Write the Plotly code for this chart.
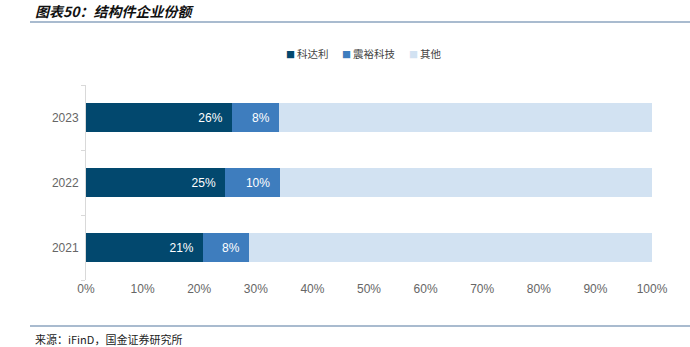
import plotly.graph_objects as go

years = ["2021", "2022", "2023"]
kedali = [20.7, 24.6, 25.8]
zhenyu = [8.1, 9.6, 8.3]
others = [71.2, 65.8, 65.9]
series_names = ["科达利", "震裕科技", "其他"]
colors = ["#02486E", "#3E7DBE", "#D2E2F2"]
xticks = [0, 10, 20, 30, 40, 50, 60, 70, 80, 90, 100]

PW, PH, L, B = 566, 195, 86, 67

def px(x):
    return (x - L) / PW

def py(y):
    return (347 - B - y) / PH

fig = go.Figure()
for name, vals, col, show in zip(series_names, [kedali, zhenyu, others], colors, [True, True, False]):
    fig.add_trace(go.Bar(
        y=years, x=vals, name=name, orientation="h",
        marker=dict(color=col, line=dict(width=0)),
        text=[f"{round(v):.0f}%\u00a0\u00a0" for v in vals] if show else None,
        textposition="inside", insidetextanchor="end",
        textfont=dict(color="white", size=12, family="Liberation Sans, Arial"),
        hoverinfo="skip", showlegend=False,
    ))

fig.update_layout(
    barmode="stack", bargap=0.55,
    width=690, height=347,
    margin=dict(l=L, r=38, t=85, b=B),
    paper_bgcolor="white", plot_bgcolor="white",
    font=dict(family="Liberation Sans, Noto Sans CJK SC", size=12, color="#555"),
    xaxis=dict(range=[0, 100], tickvals=xticks, ticktext=[f"{v}%" for v in xticks],
               showgrid=False, zeroline=False, showline=False, ticks="",
               tickfont=dict(size=12, color="#666")),
    yaxis=dict(showgrid=False, showline=True, linecolor="#D9D9D9", linewidth=1,
               ticks="outside", tickson="boundaries", ticklen=4, tickcolor="#D9D9D9",
               tickfont=dict(size=12, color="#666"), ticklabelstandoff=4),
    showlegend=False,
)

legend_x = [284, 340, 407]
for name, col, lx in zip(series_names, colors, legend_x):
    fig.add_annotation(text=f'<span style="color:{col};font-size:9px">■</span>\u2009{name}',
                       xref="paper", yref="paper", x=px(lx), y=py(54),
                       xanchor="left", yanchor="middle", showarrow=False,
                       font=dict(family="Noto Sans CJK SC", size=10.5, color="#444"))

fig.add_annotation(text="<b><i>图表50：结构件企业份额</i></b>", xref="paper", yref="paper",
                   x=px(33), y=py(11), xanchor="left", yanchor="middle",
                   showarrow=False, font=dict(family="Noto Sans CJK SC", size=14, color="#111"))
fig.add_annotation(text="来源：iFinD，国金证券研究所", xref="paper", yref="paper",
                   x=px(33), y=py(339), xanchor="left", yanchor="middle",
                   showarrow=False, font=dict(family="Noto Sans CJK SC", size=11, color="#222"))
fig.add_shape(type="line", xref="paper", yref="paper",
              x0=px(30), x1=px(690), y0=py(22), y1=py(22),
              line=dict(color="#8CA5BF", width=1.5))
fig.add_shape(type="line", xref="paper", yref="paper",
              x0=px(30), x1=px(690), y0=py(326), y1=py(326),
              line=dict(color="#8CA5BF", width=1.5))

fig.write_html("out.html")
